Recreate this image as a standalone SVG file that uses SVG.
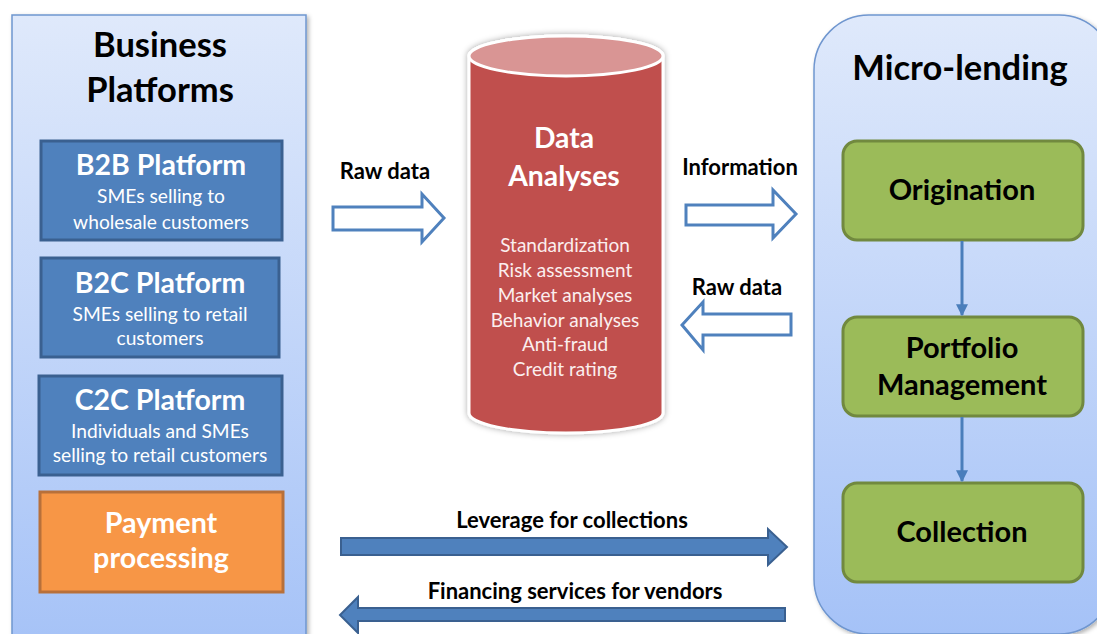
<svg xmlns="http://www.w3.org/2000/svg" width="1097" height="634" viewBox="0 0 1097 634">
  <defs>
    <linearGradient id="panelFill" x1="0" y1="0" x2="0" y2="1">
      <stop offset="0" stop-color="#dfe9fb"/>
      <stop offset="1" stop-color="#a5c2f7"/>
    </linearGradient>
    <filter id="shadow" x="-10%" y="-10%" width="120%" height="120%">
      <feDropShadow dx="2" dy="2" stdDeviation="2" flood-color="#000" flood-opacity="0.3"/>
    </filter>
    <filter id="glow" x="-10%" y="-10%" width="120%" height="120%">
      <feDropShadow dx="0" dy="0" stdDeviation="3" flood-color="#000" flood-opacity="0.35"/>
    </filter>
    <marker id="arrowHead" viewBox="0 0 10 10" refX="9" refY="5" markerWidth="4" markerHeight="4" orient="auto">
      <path d="M0,0 L10,5 L0,10 z" fill="#4a7ebb"/>
    </marker>
    <style>
      text { font-family: Lato, "Open Sans", "Liberation Sans", sans-serif; text-anchor: middle; }
      .panel { fill: url(#panelFill); stroke: #6f96cf; stroke-width: 1.5; }
      .title { font-size: 34.5px; font-weight: bold; fill: #000; }
      .blue { fill: #4f81bd; stroke: #3a6090; stroke-width: 3; }
      .orange { fill: #f79646; stroke: #b8703a; stroke-width: 3; }
      .green { fill: #9bbb59; stroke: #71893f; stroke-width: 3; }
      .head { font-size: 28.5px; font-weight: bold; fill: #fff; }
      .sub { font-size: 19.2px; fill: #fff; }
      .gtext { font-size: 29px; font-weight: bold; fill: #000; }
      .label { font-size: 22px; font-weight: bold; fill: #000; }
      .list { font-size: 19px; fill: #fbeeee; }
      .hollow { fill: #fff; stroke: #4f81bd; stroke-width: 3; stroke-linejoin: miter; }
      .solid { fill: #4f81bd; stroke: #3a6090; stroke-width: 2; }
      .link { stroke: #4a7ebb; stroke-width: 3; fill: none; marker-end: url(#arrowHead); }
    </style>
  </defs>

  <rect width="1097" height="634" fill="#fff"/>

  <!-- Business platforms column -->
  <g id="business-platforms">
    <rect class="panel" x="12" y="15" width="294" height="640" filter="url(#shadow)"/>
    <text class="title" x="160" y="57">Business</text>
    <text class="title" x="160" y="102">Platforms</text>
  </g>

  <g id="b2b">
    <rect class="blue" x="41" y="141" width="241" height="99"/>
    <text class="head" x="161" y="175">B2B Platform</text>
    <text class="sub" x="161" y="203">SMEs selling to</text>
    <text class="sub" x="161" y="229">wholesale customers</text>
  </g>

  <g id="b2c">
    <rect class="blue" x="41" y="258" width="238" height="99"/>
    <text class="head" x="160" y="293">B2C Platform</text>
    <text class="sub" x="160" y="321">SMEs selling to retail</text>
    <text class="sub" x="160" y="345">customers</text>
  </g>

  <g id="c2c">
    <rect class="blue" x="39" y="376" width="243" height="99"/>
    <text class="head" x="160" y="410">C2C Platform</text>
    <text class="sub" x="160" y="438">Individuals and SMEs</text>
    <text class="sub" x="160" y="462">selling to retail customers</text>
  </g>

  <g id="payment">
    <rect class="orange" x="40" y="492" width="243" height="100"/>
    <text class="head" x="161" y="533" style="font-size:28.7px">Payment</text>
    <text class="head" x="161" y="568" style="font-size:28.7px">processing</text>
  </g>

  <!-- Data analyses cylinder -->
  <g id="data-analyses">
    <g filter="url(#glow)">
      <path d="M469,56 L469,413 A97,20 0 0 0 663,413 L663,56 A97,20 0 0 0 469,56 z" fill="#c0504d" stroke="#fff" stroke-width="3"/>
      <ellipse cx="566" cy="56" rx="97" ry="20" fill="#d99594" stroke="#fff" stroke-width="3"/>
    </g>
    <text x="564" y="148" style="font-size:28.3px;font-weight:bold;fill:#fff">Data</text>
    <text x="564" y="186" style="font-size:28.3px;font-weight:bold;fill:#fff">Analyses</text>
    <text class="list" x="565" y="252">Standardization</text>
    <text class="list" x="565" y="277">Risk assessment</text>
    <text class="list" x="565" y="302">Market analyses</text>
    <text class="list" x="565" y="327">Behavior analyses</text>
    <text class="list" x="565" y="351">Anti-fraud</text>
    <text class="list" x="565" y="376">Credit rating</text>
  </g>

  <!-- Micro-lending column -->
  <g id="micro-lending">
    <rect class="panel" x="814" y="15" width="300" height="619" rx="55" ry="55" filter="url(#shadow)"/>
    <text class="title" x="960" y="80">Micro-lending</text>
  </g>

  <g id="origination">
    <rect class="green" x="843" y="141" width="240" height="99" rx="14"/>
    <text class="gtext" x="962" y="200">Origination</text>
  </g>

  <g id="portfolio">
    <rect class="green" x="843" y="317" width="240" height="99" rx="14"/>
    <text class="gtext" x="962" y="358">Portfolio</text>
    <text class="gtext" x="962" y="395">Management</text>
  </g>

  <g id="collection">
    <rect class="green" x="843" y="483" width="240" height="99" rx="14"/>
    <text class="gtext" x="962" y="542">Collection</text>
  </g>

  <!-- Connectors -->
  <g id="connectors">
    <text class="label" x="385" y="179">Raw data</text>
    <polygon class="hollow" points="333,207 422,207 422,194 444,218 422,242 422,230 333,230"/>

    <text class="label" x="740" y="175">Information</text>
    <polygon class="hollow" points="686,205 773,205 773,190 796,214 773,238 773,225 686,225"/>

    <text class="label" x="737" y="295">Raw data</text>
    <polygon class="hollow" points="791,314 703,314 703,302 682,325 703,350 703,335 791,335"/>

    <line class="link" x1="962" y1="241" x2="962" y2="315"/>
    <line class="link" x1="962" y1="417" x2="962" y2="481"/>

    <text class="label" x="572" y="528">Leverage for collections</text>
    <polygon class="solid" points="341,538 768,538 768,529 787,547 768,565 768,555 341,555"/>

    <text class="label" x="575" y="599">Financing services for vendors</text>
    <polygon class="solid" points="785,608 358,608 358,597 340,615 358,633 358,621 785,621"/>
  </g>
</svg>
